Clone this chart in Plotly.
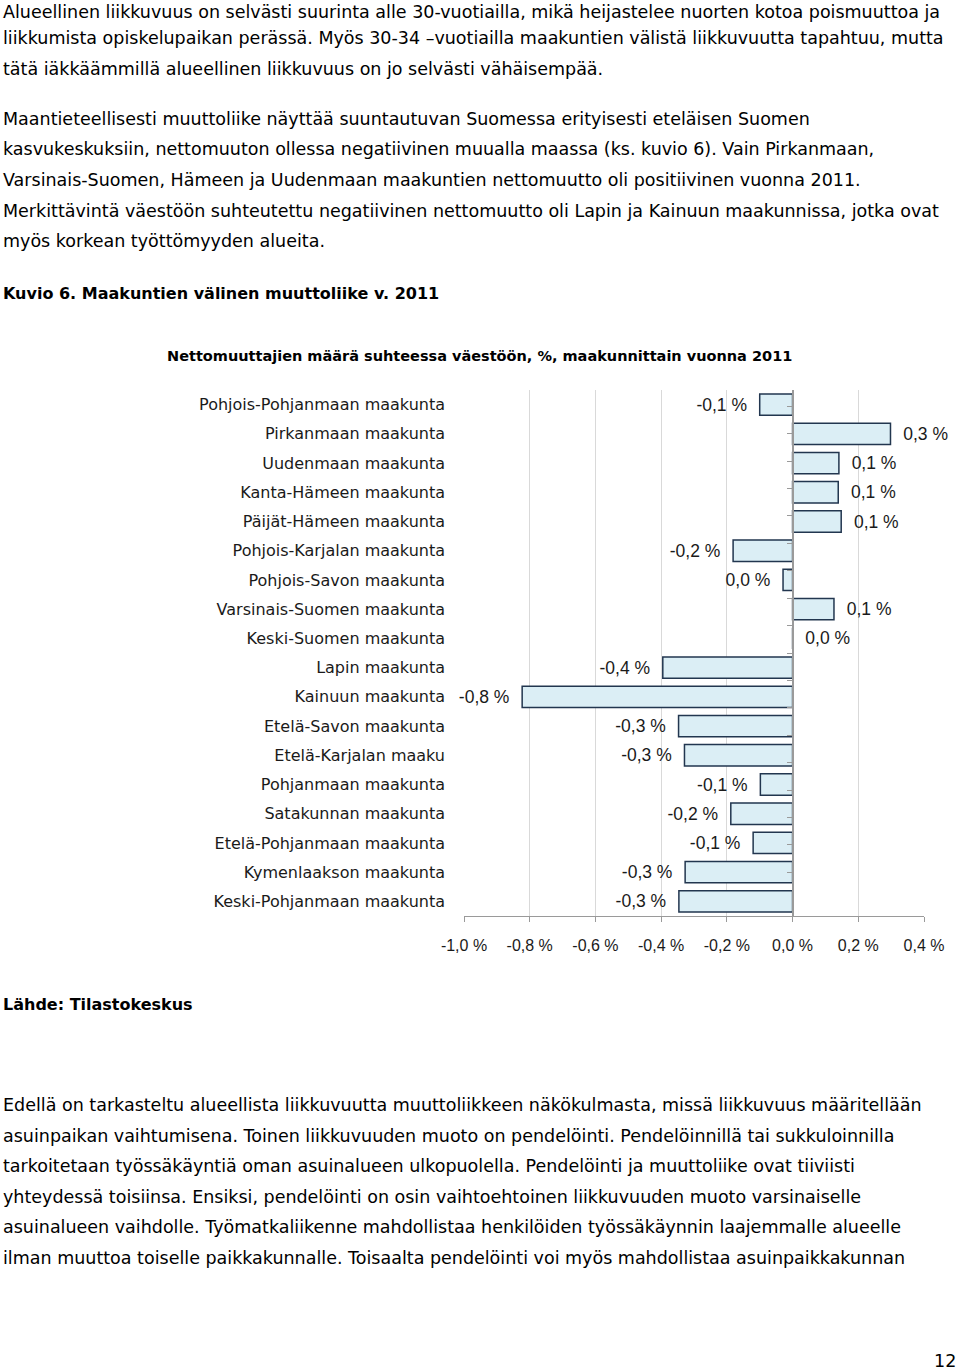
import plotly.graph_objects as go

W, H = 960, 1371

categories = [
    "Pohjois-Pohjanmaan maakunta", "Pirkanmaan maakunta", "Uudenmaan maakunta",
    "Kanta-Hämeen maakunta", "Päijät-Hämeen maakunta", "Pohjois-Karjalan maakunta",
    "Pohjois-Savon maakunta", "Varsinais-Suomen maakunta", "Keski-Suomen maakunta",
    "Lapin maakunta", "Kainuun maakunta", "Etelä-Savon maakunta",
    "Etelä-Karjalan maaku", "Pohjanmaan maakunta", "Satakunnan maakunta",
    "Etelä-Pohjanmaan maakunta", "Kymenlaakson maakunta", "Keski-Pohjanmaan maakunta",
]
values = [-0.100, 0.298, 0.141, 0.139, 0.148, -0.181, -0.029, 0.126, 0.0,
          -0.395, -0.823, -0.347, -0.329, -0.098, -0.188, -0.120, -0.327, -0.346]
x_ticks = [-1.0, -0.8, -0.6, -0.4, -0.2, 0.0, 0.2, 0.4]

chart_title = "Nettomuuttajien määrä suhteessa väestöön, %, maakunnittain vuonna 2011"

top_lines = [
    "Alueellinen liikkuvuus on selvästi suurinta alle 30-vuotiailla, mikä heijastelee nuorten kotoa poismuuttoa ja",
    "liikkumista opiskelupaikan perässä. Myös 30-34 –vuotiailla maakuntien välistä liikkuvuutta tapahtuu, mutta",
    "tätä iäkkäämmillä alueellinen liikkuvuus on jo selvästi vähäisempää.",
    "",
    "Maantieteellisesti muuttoliike näyttää suuntautuvan Suomessa erityisesti eteläisen Suomen",
    "kasvukeskuksiin, nettomuuton ollessa negatiivinen muualla maassa (ks. kuvio 6). Vain Pirkanmaan,",
    "Varsinais-Suomen, Hämeen ja Uudenmaan maakuntien nettomuutto oli positiivinen vuonna 2011.",
    "Merkittävintä väestöön suhteutettu negatiivinen nettomuutto oli Lapin ja Kainuun maakunnissa, jotka ovat",
    "myös korkean työttömyyden alueita.",
]
caption = "Kuvio 6. Maakuntien välinen muuttoliike v. 2011"
source = "Lähde: Tilastokeskus"
bottom_lines = [
    "Edellä on tarkasteltu alueellista liikkuvuutta muuttoliikkeen näkökulmasta, missä liikkuvuus määritellään",
    "asuinpaikan vaihtumisena. Toinen liikkuvuuden muoto on pendelöinti. Pendelöinnillä tai sukkuloinnilla",
    "tarkoitetaan työssäkäyntiä oman asuinalueen ulkopuolella. Pendelöinti ja muuttoliike ovat tiiviisti",
    "yhteydessä toisiinsa. Ensiksi, pendelöinti on osin vaihtoehtoinen liikkuvuuden muoto varsinaiselle",
    "asuinalueen vaihdolle. Työmatkaliikenne mahdollistaa henkilöiden työssäkäynnin laajemmalle alueelle",
    "ilman muuttoa toiselle paikkakunnalle. Toisaalta pendelöinti voi myös mahdollistaa asuinpaikkakunnan",
]
page_number = "12"

WORD_FONT = "DejaVu Sans, Verdana, sans-serif"
NUM_FONT = "Liberation Sans, Arial, sans-serif"


def fmt(v):
    r = round(v, 1)
    if r == 0:
        r = 0.0
    return f"{r:.1f}".replace(".", ",") + " %"


labels = [("  " + fmt(v)) if v >= 0 else (fmt(v) + "  ") for v in values]
tick_text = [fmt(t) for t in x_ticks]

# layout geometry (pixels)
px_left, px_right = 464, 924
px_top, px_bottom = 390, 916
x_range = [-1.0, 0.4]
xdom = [px_left / W, px_right / W]
ydom = [1 - px_bottom / H, 1 - px_top / H]
zero_pos = xdom[0] + (0 - x_range[0]) / (x_range[1] - x_range[0]) * (xdom[1] - xdom[0])

fig = go.Figure()
fig.add_trace(go.Bar(
    x=values, y=categories, orientation="h",
    marker=dict(color="#dbeef5", line=dict(color="#22364f", width=1.5)),
    width=0.73,
    text=labels, textposition="outside", cliponaxis=False, constraintext="none",
    textfont=dict(family=NUM_FONT, size=17.5, color="#1a1a1a"),
    hoverinfo="skip",
))
# invisible trace for the zero-line category axis with boundary ticks
fig.add_trace(go.Scatter(
    x=[0] * len(categories), y=categories, yaxis="y2", mode="markers",
    marker=dict(opacity=0), hoverinfo="skip", showlegend=False,
))

fig.update_layout(
    width=W, height=H,
    margin=dict(l=0, r=0, t=0, b=0, pad=0),
    paper_bgcolor="white", plot_bgcolor="white",
    showlegend=False,
    font=dict(family=WORD_FONT, size=16, color="#1a1a1a"),
    xaxis=dict(
        domain=xdom, range=x_range, tickvals=x_ticks, ticktext=tick_text,
        showgrid=True, gridcolor="#d9d9d9", gridwidth=1.2, zeroline=False,
        showline=True, linecolor="#9a9a9a", linewidth=1.3,
        ticks="outside", ticklen=5, tickcolor="#9a9a9a",
        tickfont=dict(family=NUM_FONT, size=16, color="#1a1a1a"),
        ticklabelstandoff=10, automargin=False,
    ),
    yaxis=dict(
        domain=ydom, type="category", categoryorder="array", categoryarray=categories,
        autorange="reversed", showgrid=False, zeroline=False, showline=False, ticks="",
        tickfont=dict(family=WORD_FONT, size=16, color="#1a1a1a"),
        ticklabelstandoff=18, automargin=False,
    ),
    yaxis2=dict(
        domain=ydom, type="category", categoryorder="array", categoryarray=categories,
        autorange="reversed", overlaying="y", anchor="free", position=zero_pos, side="left",
        showgrid=False, zeroline=False, showline=True, linecolor="#9a9a9a", linewidth=1.5,
        ticks="outside", tickson="boundaries", ticklen=5, tickcolor="#9a9a9a",
        showticklabels=False, automargin=False,
    ),
)

annotations = []


def add_text(text, xpx, ypx, size=17.5, bold=False, xanchor="left", yanchor="middle"):
    annotations.append(dict(
        text=f"<b>{text}</b>" if bold else text,
        x=xpx / W, y=1 - ypx / H, xref="paper", yref="paper",
        xanchor=xanchor, yanchor=yanchor, showarrow=False,
        font=dict(family=WORD_FONT, size=size, color="#000000"),
    ))


top_y = [8, 38, 69, 99, 119, 149, 180, 211, 241]
for i, (line, y) in enumerate(zip(top_lines, top_y)):
    if not line:
        continue
    if i == 0:
        add_text(line, 1, 0, yanchor="top")
    else:
        add_text(line, 1, y)
add_text(caption, 1, 293, size=16, bold=True)
add_text(chart_title, 479, 356, size=14.5, bold=True, xanchor="center")
add_text(source, 1, 1004, size=16, bold=True)
for i, line in enumerate(bottom_lines):
    add_text(line, 1, 1105 + i * 30.6)
add_text(page_number, 958, 1361, xanchor="right")

fig.update_layout(annotations=annotations)
fig.write_html("out.html", config={"displayModeBar": False},
               post_script="document.body.style.margin='0';")
